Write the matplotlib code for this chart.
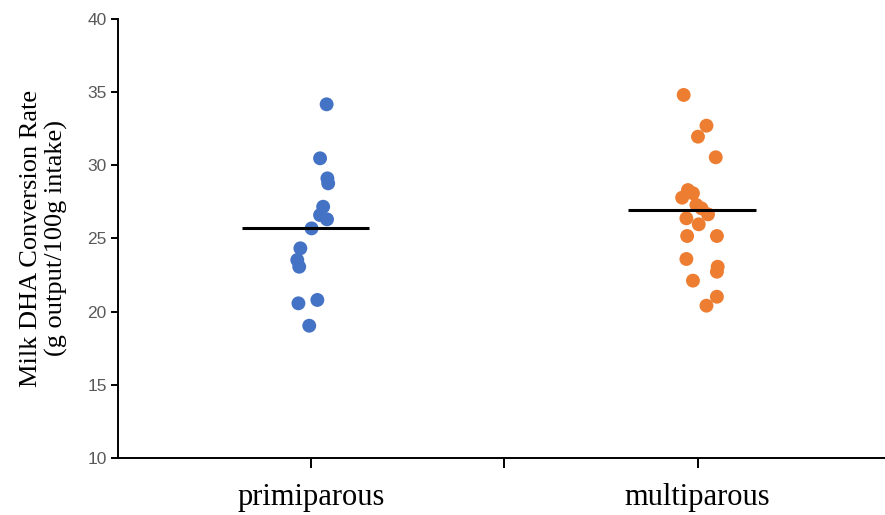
import numpy as np
import matplotlib
matplotlib.use("Agg")
import matplotlib.pyplot as plt

groups = ["primiparous", "multiparous"]
colors = ["#4472C4", "#ED7D31"]

primi_values = [34.17, 30.48, 29.11, 28.77, 27.17, 26.60, 26.31, 25.69, 24.33,
                23.53, 23.07, 20.57, 20.80, 19.04]
primi_jitter = [0.040, 0.023, 0.042, 0.044, 0.031, 0.023, 0.041, 0.001, -0.028,
                -0.036, -0.031, -0.033, 0.016, -0.005]

multi_values = [34.81, 32.71, 31.96, 30.55, 28.31, 28.09, 27.79, 27.29, 27.06,
                26.65, 26.38, 25.97, 25.17, 25.17, 23.60, 23.07, 22.73, 22.12,
                21.02, 20.41]
multi_jitter = [-0.036, 0.023, 0.001, 0.047, -0.025, -0.012, -0.040, -0.003, 0.010,
                0.027, -0.029, 0.003, -0.027, 0.050, -0.029, 0.052, 0.050, -0.012,
                0.050, 0.023]

group_means = [25.7, 26.95]

yticks = [10, 15, 20, 25, 30, 35, 40]


def main():
    fig = plt.figure(figsize=(8.85, 5.15), dpi=100)
    ax = fig.add_axes([0.1333, 0.1107, 0.8667, 0.8524])

    values = [primi_values, multi_values]
    jitters = [primi_jitter, multi_jitter]
    for i in range(len(groups)):
        x = i + np.array(jitters[i])
        ax.scatter(x, values[i], s=100, color=colors[i], edgecolors="none", zorder=3)
        ax.hlines(group_means[i], i - 0.18, i + 0.15, color="black", linewidth=2.2, zorder=4)

    ax.set_xlim(-0.5, 1.485)
    ax.set_ylim(10, 40)
    ax.set_yticks(yticks)
    ax.set_xticks([0, 0.5, 1])
    ax.set_xticklabels(["primiparous", "", "multiparous"],
                       fontfamily="Liberation Serif", fontsize=22)
    for lab in ax.get_yticklabels():
        lab.set_fontfamily("Liberation Sans")
        lab.set_fontsize(12.5)
        lab.set_color("#595959")

    ax.spines["top"].set_visible(False)
    ax.spines["right"].set_visible(False)
    ax.spines["left"].set_linewidth(1.4)
    ax.spines["bottom"].set_linewidth(1.4)
    ax.tick_params(axis="y", length=5, width=1.4, pad=3)
    ax.tick_params(axis="x", length=7, width=1.4, pad=11)

    ax.set_ylabel("Milk DHA Conversion Rate\n(g output/100g intake)",
                  fontfamily="Liberation Serif", fontsize=19, labelpad=14,
                  linespacing=1.15)

    fig.savefig("out.png", dpi=100)


if __name__ == "__main__":
    main()
